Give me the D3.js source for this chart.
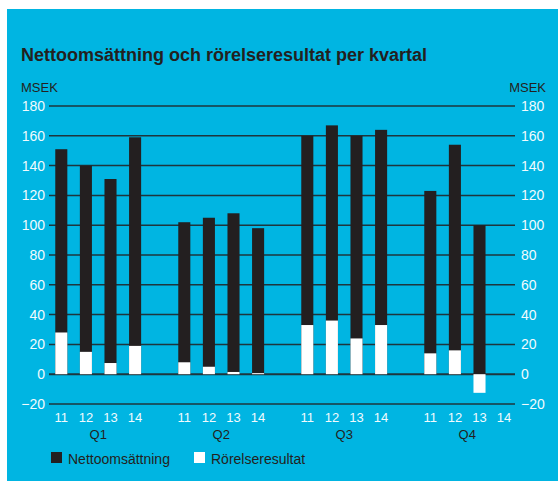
<!DOCTYPE html>
<html>
<head>
<meta charset="utf-8">
<script src="https://cdn.jsdelivr.net/npm/d3@7"></script>
<style>
  html, body { margin: 0; padding: 0; background: #fff; }
  svg { display: block; }
  text { font-family: "Liberation Sans", Arial, sans-serif; }
</style>
</head>
<body>
<script>
var quarters = ["Q1", "Q2", "Q3", "Q4"];
var years = ["11", "12", "13", "14"];
var yTicks = [-20, 0, 20, 40, 60, 80, 100, 120, 140, 160, 180];

// nettoomsättning per kvartal, år 11-14 (null = saknas)
var netto = [
  [151, 140, 131, 159],
  [102, 105, 108, 98],
  [160, 167, 160, 164],
  [123, 154, 100, null]
];
// rörelseresultat per kvartal, år 11-14
var rorelse = [
  [28, 15, 7.5, 19],
  [8, 5, 1.5, 0.7],
  [33, 36, 24, 33],
  [14, 16, -12.5, null]
];

var width = 558, height = 481;
var ink = "#231f20", bg = "#00b5e2";

var svg = d3.select("body").append("svg")
    .attr("width", width)
    .attr("height", height);

svg.append("rect")
    .attr("x", 7).attr("y", 9)
    .attr("width", width - 7).attr("height", height - 9)
    .attr("fill", bg);

svg.append("text")
    .text("Nettoomsättning och rörelseresultat per kvartal")
    .attr("x", 21).attr("y", 61)
    .attr("font-size", "18px")
    .attr("font-weight", "bold")
    .attr("fill", ink);

svg.append("text").text("MSEK")
    .attr("x", 21).attr("y", 92)
    .attr("font-size", "13px").attr("fill", ink);
svg.append("text").text("MSEK")
    .attr("x", 546).attr("y", 92)
    .attr("text-anchor", "end")
    .attr("font-size", "13px").attr("fill", ink);

// scales
var y = d3.scaleLinear().domain([-20, 180]).range([404, 106]);
var xQ = d3.scaleBand().domain(quarters).range([49, 541]);
var xY = d3.scaleBand().domain(years)
    .range([0, xQ.bandwidth() * 4 / 5])
    .paddingInner(0.51).paddingOuter(0.255);

var left = 49, right = 515;

// grid
svg.append("g").selectAll("line")
    .data(yTicks)
    .enter().append("line")
    .attr("x1", left).attr("x2", right)
    .attr("y1", function (d) { return y(d); })
    .attr("y2", function (d) { return y(d); })
    .attr("stroke", ink)
    .attr("stroke-opacity", 0.85)
    .attr("stroke-width", function (d) { return d === 0 ? 2 : 1.5; });

// y labels both sides
var leftAxis = svg.append("g")
    .attr("transform", "translate(" + (left - 4) + ",0)")
    .call(d3.axisLeft(y).tickValues(yTicks).tickSize(0).tickPadding(0));
var rightAxis = svg.append("g")
    .attr("transform", "translate(" + (right + 6) + ",0)")
    .call(d3.axisRight(y).tickValues(yTicks).tickSize(0).tickPadding(0));
[leftAxis, rightAxis].forEach(function (ax) {
  ax.select(".domain").remove();
  ax.selectAll("text")
      .attr("fill", "#f2fbfe")
      .attr("font-size", "14px")
      .attr("font-family", "Liberation Sans, Arial, sans-serif");
});

// bars
var groups = svg.append("g").selectAll("g.quarter")
    .data(quarters)
    .enter().append("g")
    .attr("class", "quarter")
    .attr("transform", function (d) { return "translate(" + xQ(d) + ",0)"; });

groups.selectAll("rect.netto")
    .data(function (d, i) { return netto[i].map(function (v, j) { return { year: years[j], v: v }; }); })
    .enter().filter(function (d) { return d.v !== null; })
    .append("rect")
    .attr("class", "netto")
    .attr("x", function (d) { return xY(d.year); })
    .attr("width", xY.bandwidth())
    .attr("y", function (d) { return y(d.v); })
    .attr("height", function (d) { return y(0) - y(d.v); })
    .attr("fill", ink);

groups.selectAll("rect.rorelse")
    .data(function (d, i) { return rorelse[i].map(function (v, j) { return { year: years[j], v: v }; }); })
    .enter().filter(function (d) { return d.v !== null; })
    .append("rect")
    .attr("class", "rorelse")
    .attr("x", function (d) { return xY(d.year); })
    .attr("width", xY.bandwidth())
    .attr("y", function (d) { return y(Math.max(0, d.v)); })
    .attr("height", function (d) { return Math.abs(y(0) - y(d.v)); })
    .attr("fill", "#fff");

// x labels
groups.selectAll("text.year")
    .data(years)
    .enter().append("text")
    .attr("class", "year")
    .text(function (d) { return d; })
    .attr("x", function (d) { return xY(d) + xY.bandwidth() / 2; })
    .attr("y", 422)
    .attr("text-anchor", "middle")
    .attr("font-size", "13px")
    .attr("fill", "#f2fbfe");

groups.append("text")
    .text(function (d) { return d; })
    .attr("x", xQ.bandwidth() * 2 / 5)
    .attr("y", 439)
    .attr("text-anchor", "middle")
    .attr("font-size", "13px")
    .attr("fill", ink);

// legend
var legendItems = [
  { name: "Nettoomsättning", color: ink, x: 51 },
  { name: "Rörelseresultat", color: "#fff", x: 194 }
];
var legend = svg.append("g").selectAll("g")
    .data(legendItems)
    .enter().append("g")
    .attr("transform", function (d) { return "translate(" + d.x + ",452)"; });
legend.append("rect")
    .attr("width", 11).attr("height", 11)
    .attr("fill", function (d) { return d.color; });
legend.append("text")
    .text(function (d) { return d.name; })
    .attr("x", 17).attr("y", 11.5)
    .attr("font-size", "14px")
    .attr("fill", ink);
</script>
</body>
</html>
